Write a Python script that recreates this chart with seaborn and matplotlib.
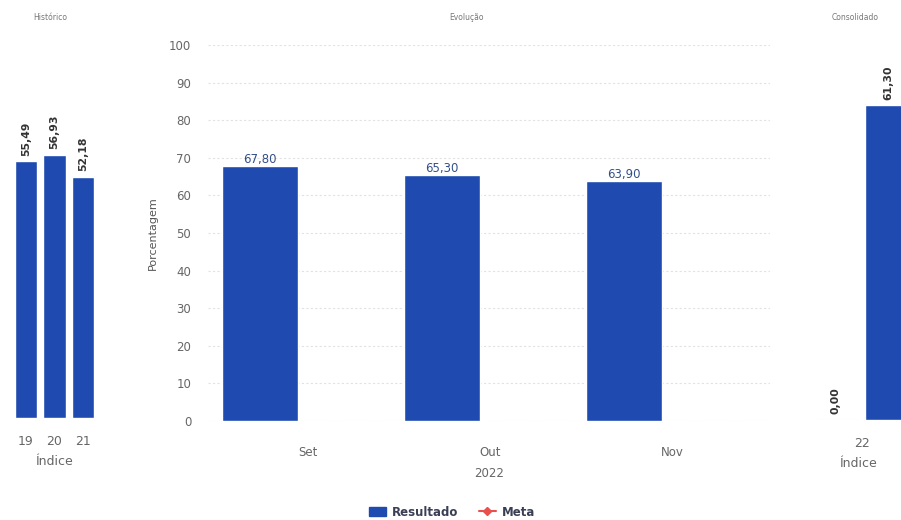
import numpy as np
import pandas as pd
import matplotlib
matplotlib.use("Agg")
import matplotlib.pyplot as plt
from matplotlib.patches import Patch
from matplotlib.lines import Line2D
import seaborn as sns

# ---- data ----
hist_years = ["19", "20", "21"]
hist_values = [55.49, 56.93, 52.18]

months = ["Set", "Out", "Nov"]
evol_result = [67.80, 65.30, 63.90]
evol_meta = [np.nan, np.nan, np.nan]

cons_year = ["22", "22"]
cons_series = ["Meta", "Resultado"]
cons_values = [0.00, 61.30]

series_names = ["Resultado", "Meta"]

BLUE = "#1f4bb0"
RED = "#e8504f"
GREY_TXT = "#666666"

sns.set_style("white")
plt.rcParams['font.family'] = ['DejaVu Sans']

fig = plt.figure(figsize=(9.01, 5.20), dpi=100)

def fmt(v):
    return f"{v:.2f}".replace(".", ",")

def clean(ax):
    for s in ax.spines.values():
        s.set_visible(False)
    ax.tick_params(axis="both", length=0, colors=GREY_TXT, labelsize=8.5)

# ---- left: Histórico ----
ax1 = fig.add_axes([11.75 / 901, 1 - 418 / 520, 85.5 / 901, 370 / 520])
df_hist = pd.DataFrame({"Índice": hist_years, "valor": hist_values})
sns.barplot(data=df_hist, x="Índice", y="valor", color=BLUE, saturation=1,
            width=0.78, errorbar=None, ax=ax1)
ax1.set_ylim(0, 80)
ax1.set_xlim(-0.5, 2.5)
ax1.set_yticks([])
ax1.set_ylabel("")
ax1.set_xlabel("Índice", fontsize=9, color=GREY_TXT, labelpad=5)
clean(ax1)
ax1.tick_params(axis="x", pad=12, labelsize=9)
ax1.bar_label(ax1.containers[0], labels=[fmt(v) for v in hist_values],
              rotation=90, fontsize=7.8, fontweight="bold", color="#333333", padding=4)

# ---- middle: Evolução ----
ax2 = fig.add_axes([208 / 901, 1 - 421 / 520, 562 / 901, 376 / 520])
df_evol = pd.DataFrame({
    "mes": months * 2,
    "serie": [series_names[0]] * 3 + [series_names[1]] * 3,
    "valor": evol_result + evol_meta,
})
sns.barplot(data=df_evol, x="mes", y="valor", hue="serie", hue_order=series_names,
            palette={"Resultado": BLUE, "Meta": RED}, saturation=1,
            width=1.05, gap=0.2, errorbar=None, legend=False, ax=ax2)
ax2.set_ylim(0, 100)
ax2.set_xlim(-0.549, 2.538)
ax2.set_yticks(range(0, 101, 10))
ax2.yaxis.grid(True, color="#e2e2e2", linestyle=(0, (2, 2)), linewidth=0.8)
ax2.set_axisbelow(True)
ax2.set_ylabel("Porcentagem", fontsize=8, color="#555555", labelpad=8)
ax2.set_xlabel("2022", fontsize=8.5, color=GREY_TXT, labelpad=6)
clean(ax2)
ax2.tick_params(axis="x", pad=18)
ax2.tick_params(axis="y", pad=12)
ax2.bar_label(ax2.containers[0], labels=[fmt(v) for v in evol_result],
              fontsize=8.5, color="#34508a", padding=0)

# ---- right: Consolidado ----
ax3 = fig.add_axes([817 / 901, 1 - 420 / 520, 84 / 901, 372 / 520])
df_cons = pd.DataFrame({"Índice": cons_year, "serie": cons_series, "valor": cons_values})
sns.barplot(data=df_cons, x="Índice", y="valor", hue="serie", hue_order=cons_series,
            palette={"Meta": BLUE, "Resultado": BLUE}, saturation=1,
            width=0.8, gap=0.1, errorbar=None, legend=False, ax=ax3)
ax3.set_ylim(0, 72.5)
ax3.set_xlim(-0.346, 0.3)
ax3.set_yticks([])
ax3.set_ylabel("")
ax3.set_xlabel("Índice", fontsize=9, color=GREY_TXT, labelpad=5)
ax3.axhline(0, color="#e2e2e2", lw=0.8, xmax=0.5, zorder=0)
clean(ax3)
ax3.tick_params(axis="x", pad=12, labelsize=9)
for cont, v in zip(ax3.containers, cons_values):
    ax3.bar_label(cont, labels=[fmt(v)], rotation=90, fontsize=7.8,
                  fontweight="bold", color="#333333", padding=4)

# ---- titles ----
fig.text(50 / 901, 1 - 18 / 520, "Histórico", fontsize=5.5, color="#777777", ha="center", va="center")
fig.text(467 / 901, 1 - 18 / 520, "Evolução", fontsize=5.5, color="#777777", ha="center", va="center")
fig.text(855 / 901, 1 - 18 / 520, "Consolidado", fontsize=5.5, color="#777777", ha="center", va="center")

# ---- legend ----
handles = [Patch(facecolor=BLUE, edgecolor=BLUE),
           Line2D([0], [0], color=RED, marker="D", markersize=4, lw=1.5)]
fig.legend(handles, series_names, loc="center", bbox_to_anchor=(452 / 901, 1 - 512 / 520),
           ncol=2, frameon=False, prop={"weight": "bold", "size": 8.5},
           labelcolor="#3b3f55", handlelength=1.4, columnspacing=1.8, handletextpad=0.5)

fig.savefig("out.png", dpi=100)
